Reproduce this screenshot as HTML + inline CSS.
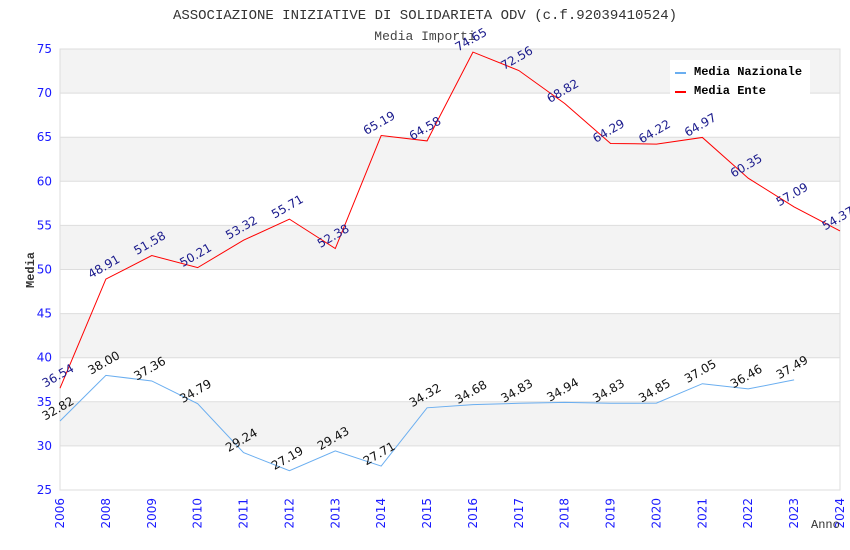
<!DOCTYPE html>
<html><head><meta charset="utf-8"><style>
body{margin:0;background:#fff}
svg{display:block;font-family:"DejaVu Sans","Liberation Sans",sans-serif}
</style></head><body>
<svg id="c" width="850" height="550">
<text x="425" y="19" text-anchor="middle" font-family="'Liberation Mono',monospace" font-size="14" fill="#333">ASSOCIAZIONE INIZIATIVE DI SOLIDARIETA ODV (c.f.92039410524)</text>
<text x="425" y="40" text-anchor="middle" font-family="'Liberation Mono',monospace" font-size="13" fill="#444">Media Importi</text>
<g id="grid"></g><g id="series"></g><g id="labels"></g>
<text transform="translate(34,270) rotate(-90)" text-anchor="middle" font-family="'Liberation Mono',monospace" font-size="12" font-weight="bold" fill="#333">Media</text>
<text x="811" y="528" font-family="'Liberation Mono',monospace" font-size="12" fill="#333">Anno</text>
<g>
<rect x="670" y="60" width="140" height="36" fill="#fff"/>
<line x1="675" y1="73" x2="686" y2="73" stroke="#6aaef0" stroke-width="2"/>
<text x="694" y="75" font-family="'Liberation Mono',monospace" font-size="12" font-weight="bold">Media Nazionale</text>
<line x1="675" y1="92" x2="686" y2="92" stroke="#f00" stroke-width="2"/>
<text x="694" y="94" font-family="'Liberation Mono',monospace" font-size="12" font-weight="bold">Media Ente</text>
</g>
</svg>
<script>
const years=["2006","2008","2009","2010","2011","2012","2013","2014","2015","2016","2017","2018","2019","2020","2021","2022","2023","2024"];
const yTicks=[25,30,35,40,45,50,55,60,65,70,75];
const nazionale=[32.82,38.00,37.36,34.79,29.24,27.19,29.43,27.71,34.32,34.68,34.83,34.94,34.83,34.85,37.05,36.46,37.49,null];
const ente=[36.54,48.91,51.58,50.21,53.32,55.71,52.38,65.19,64.58,74.65,72.56,68.82,64.29,64.22,64.97,60.35,57.09,54.37];
const NS="http://www.w3.org/2000/svg";
const L=60,R=840,T=49,B=490;
const x=i=>L+i*(R-L)/(years.length-1);
const y=v=>B-(v-25)/(75-25)*(B-T);
function mk(t,a,p){const e=document.createElementNS(NS,t);for(const k in a)e.setAttribute(k,a[k]);p.appendChild(e);return e;}
const g=document.getElementById('grid');
for(let i=0;i<yTicks.length-1;i++){
 if(i%2==1){const r=mk('rect',{x:L,y:y(yTicks[i+1]),width:R-L,height:y(yTicks[i])-y(yTicks[i+1]),fill:'#f3f3f3'},g);
 
 }
}
yTicks.forEach(v=>{
 const l=mk('line',{x1:L,x2:R,y1:y(v),y2:y(v),stroke:'#ddd'},g);
 
 
 const t=mk('text',{x:L-8,y:y(v)+4,'text-anchor':'end','font-size':12,fill:'#1a1aff'},g);
 t.textContent=v;
 
 
});
mk('rect',{x:L,y:T,width:R-L,height:B-T,fill:'none',stroke:'#ddd'},g);
years.forEach((yr,i)=>{
 const t=mk('text',{transform:`translate(${x(i)+4},${B+8}) rotate(-90)`,'text-anchor':'end','font-size':12,fill:'#1a1aff'},g);
 t.textContent=yr;
 
 
});
const s=document.getElementById('series'),lb=document.getElementById('labels');
function draw(data,color,lc,name){
 let d='';data.forEach((v,i)=>{if(v==null)return;d+=(d?'L':'M')+x(i)+','+y(v);});
 const p=mk('path',{d,fill:'none',stroke:color,'stroke-width':1},s);
 
 
 data.forEach((v,i)=>{if(v==null)return;
  const t=mk('text',{transform:`translate(${x(i)},${y(v)-9}) rotate(-30)`,'text-anchor':'middle','font-size':12,fill:lc},lb);
  t.textContent=v.toFixed(2);
  
  
 });
}
draw(nazionale,'#6aaef0','#111','nazionale');
draw(ente,'#f00','#1a1a8c','ente');
</script>
</body></html>
